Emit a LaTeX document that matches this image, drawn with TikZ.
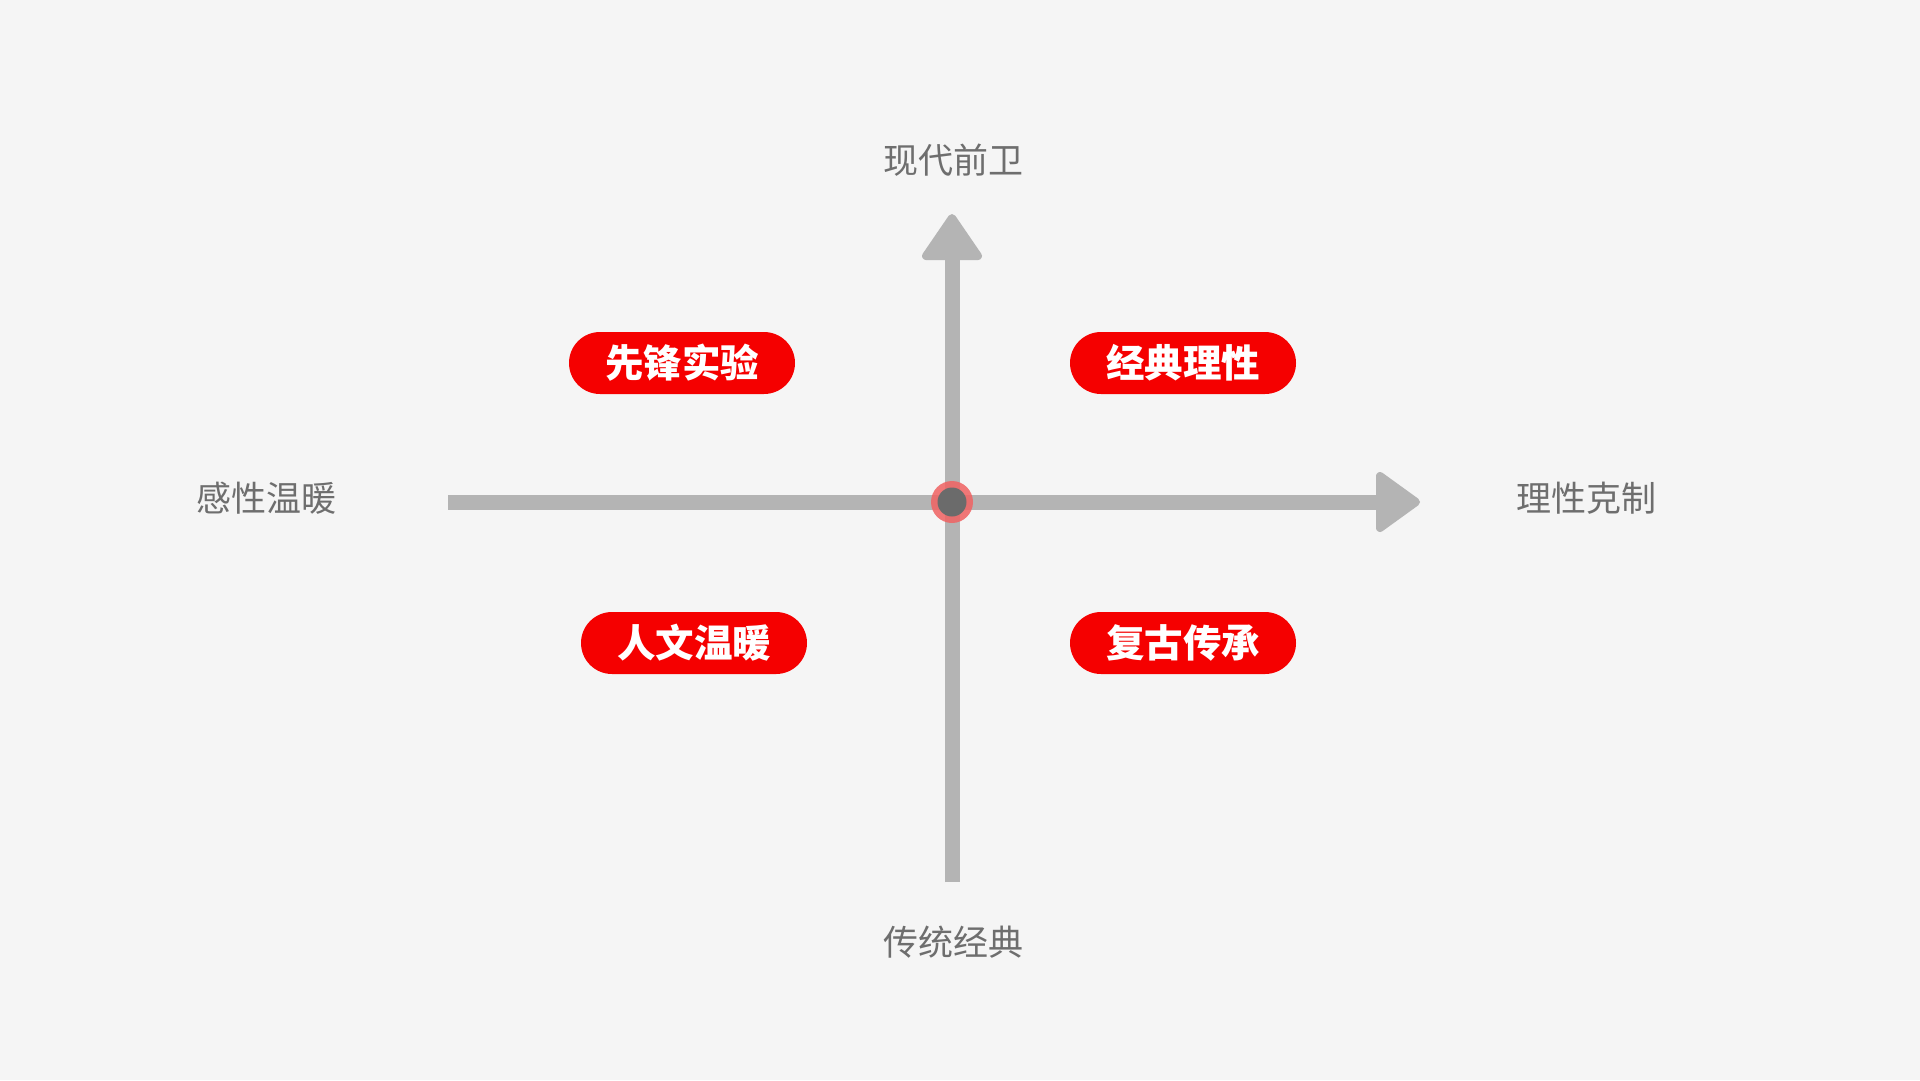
\documentclass[tikz,border=0pt]{standalone}
\usepackage{fontspec}
\newfontfamily\cjk{Noto Sans CJK SC}
\definecolor{bg}{HTML}{F5F5F5}
\definecolor{axisgray}{HTML}{B4B4B4}
\definecolor{labelgray}{HTML}{6E6E6E}
\definecolor{pillred}{HTML}{F50000}
\definecolor{dotgray}{HTML}{6B6B6B}
\definecolor{ringred}{HTML}{F06262}
\tikzset{
  axisline/.style={draw=axisgray, line width=15pt},
  axishead/.style={fill=axisgray, draw=axisgray, line width=8pt, line join=round},
  axislabel/.style={text=labelgray, font=\cjk\fontsize{35}{40}\selectfont, inner sep=0pt},
  pill/.style={fill=pillred, text=white, rounded corners=31pt, minimum width=226pt, minimum height=62pt, inner sep=0pt, font=\cjk\bfseries\fontsize{38.5}{42}\selectfont}
}
\begin{document}
\begin{tikzpicture}[x=1pt,y=-1pt]
\fill[bg] (0,0) rectangle (1920,1080);
\useasboundingbox (0,0) rectangle (1920,1080);
% axes
\coordinate (left) at (448,502);
\coordinate (rightbase) at (1378,502);
\coordinate (bottom) at (952,882);
\coordinate (topbase) at (952,258);
\draw[axisline] (left) -- (rightbase);
\draw[axisline] (bottom) -- (topbase);
\filldraw[axishead] (952,218) -- (978,256) -- (926,256) -- cycle;
\filldraw[axishead] (1416,502) -- (1380,528) -- (1380,476) -- cycle;
% center
\node[circle, fill=ringred, opacity=0.85, minimum size=42pt, inner sep=0pt] (ring) at (952,502) {};
\node[circle, fill=dotgray, minimum size=29pt, inner sep=0pt] (center) at (952,502) {};
% axis labels
\node[axislabel] (top) at (953,160) {现代前卫};
\node[axislabel] (bot) at (953,942) {传统经典};
\node[axislabel] (west) at (266,498) {感性温暖};
\node[axislabel] (east) at (1586,498) {理性克制};
% quadrant pills
\node[pill] (q1) at (682,363) {先锋实验};
\node[pill] (q2) at (1183,363) {经典理性};
\node[pill] (q3) at (694,643) {人文温暖};
\node[pill] (q4) at (1183,643) {复古传承};
\end{tikzpicture}
\end{document}
